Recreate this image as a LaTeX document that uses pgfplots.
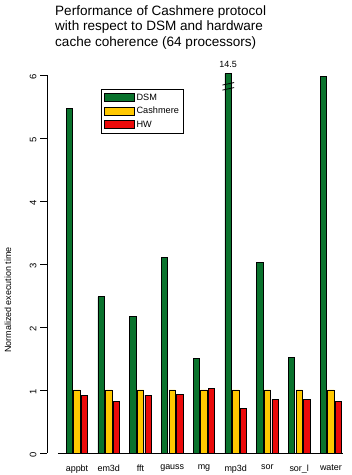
\documentclass[border=0pt]{standalone}
\usepackage{pgfplots}
\pgfplotsset{compat=1.18}
\usepackage{fontspec}
\setmainfont{Liberation Sans}
\definecolor{dsm}{RGB}{10,115,45}
\definecolor{cash}{RGB}{255,200,0}
\definecolor{hw}{RGB}{235,10,10}
\begin{document}
\begin{tikzpicture}[x=1bp,y=1bp]
\useasboundingbox (0,0) rectangle (351,475);
\node[anchor=north west,align=left,font=\fontsize{13.6}{16}\selectfont,inner sep=0pt] at (55,470)
  {Performance of Cashmere protocol\\with respect to DSM and hardware\\cache coherence (64 processors)};
\node[rotate=90,font=\fontsize{9}{10}\selectfont] at (8,175) {Normalized execution time};
\begin{axis}[
  at={(47bp,22bp)}, anchor=south west,
  scale only axis, width=303bp, height=378bp,
  xmin=-0.945, xmax=8.6, ymin=0, ymax=6,
  axis x line*=bottom, axis y line*=left,
  x axis line style={draw=none},
  y axis line style={-, line width=0.8bp},
  xtick={0,...,8},
  xticklabels={appbt,em3d,fft,gauss,mg,mp3d,sor,sor\_l,water},
  xtick style={draw=none},
  xticklabel style={font=\fontsize{9}{10}\selectfont, yshift=-1bp},
  ytick={0,...,6},
  ytick style={line width=0.8bp, black},
  tick align=outside,
  major tick length=7bp,
  /pgf/number format/assume math mode=true,
  yticklabel style={font=\fontsize{9.5}{10}\selectfont, rotate=90, anchor=south, xshift=-2bp},
  clip=false,
  legend cell align=left,
  legend style={at={(rel axis cs:0.178,0.963)}, anchor=north west, draw=black, line width=0.8bp,
    font=\fontsize{9.2}{10}\selectfont, inner sep=2.5bp, row sep=1.5bp},
  legend image code/.code={\draw[#1,draw=black,line width=0.8bp] (0bp,-4bp) rectangle (30bp,4bp);},
]
\addplot[ybar, bar width=0.2, bar shift=-0.24, fill=dsm, draw=black, line width=0.8bp]
  coordinates {(0,5.47) (1,2.48) (2,2.17) (3,3.10) (4,1.50) (5,6.02) (6,3.03) (7,1.52) (8,5.97)};
\addlegendentry{DSM}
\addplot[ybar, bar width=0.2, bar shift=0, fill=cash, draw=black, line width=0.8bp]
  coordinates {(0,1.0) (1,1.0) (2,1.0) (3,1.0) (4,1.0) (5,1.0) (6,1.0) (7,1.0) (8,1.0)};
\addlegendentry{Cashmere}
\addplot[ybar, bar width=0.2, bar shift=0.24, fill=hw, draw=black, line width=0.8bp]
  coordinates {(0,0.92) (1,0.82) (2,0.92) (3,0.93) (4,1.02) (5,0.71) (6,0.85) (7,0.85) (8,0.82)};
\addlegendentry{HW}
\draw[line width=0.8bp] (axis cs:-0.6,0) -- (axis cs:8.38,0);
\draw[line width=0.8bp] (axis cs:4.58,5.76) -- (axis cs:4.95,5.80);
\draw[line width=0.8bp] (axis cs:4.58,5.84) -- (axis cs:4.95,5.88);
\node[font=\fontsize{9}{10}\selectfont] at (axis cs:4.76,6.17) {14.5};
\end{axis}
\end{tikzpicture}
\end{document}
